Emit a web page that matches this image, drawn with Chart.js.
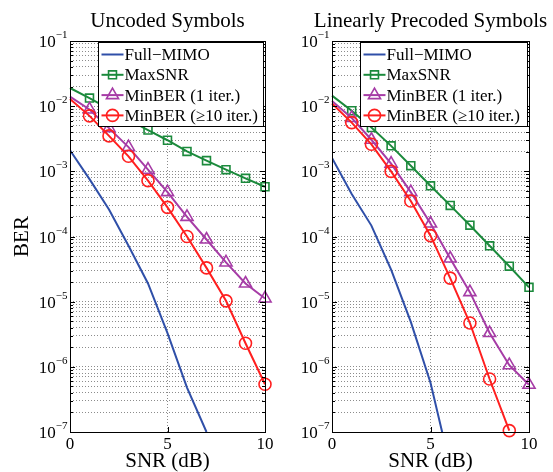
<!DOCTYPE html>
<html>
<head>
<meta charset="utf-8">
<script src="https://cdn.jsdelivr.net/npm/chart.js@4.4.1/dist/chart.umd.min.js"></script>
<style>
  html, body { margin: 0; padding: 0; background: #fff; }
  #wrap { position: relative; width: 553px; height: 472px; }
  .panel { position: absolute; top: 0; height: 472px; }
</style>
</head>
<body>
<div id="wrap">
  <div class="panel" style="left:0;width:276px"><canvas id="uncoded" width="276" height="472"></canvas></div>
  <div class="panel" style="left:276px;width:277px"><canvas id="precoded" width="277" height="472"></canvas></div>
</div>
<script>
const snr = [0, 1, 2, 3, 4, 5, 6, 7, 8, 9, 10];
const seriesNames = ['Full\u2212MIMO', 'MaxSNR', 'MinBER (1 iter.)', 'MinBER (\u226510 iter.)'];
const panelTitles = ['Uncoded Symbols', 'Linearly Precoded Symbols'];

// uncoded symbols
const fullMimoU = [2.1e-3, 7.6e-4, 2.6e-4, 7.2e-5, 1.9e-5, 3.3e-6, 4.8e-7, 1.0e-7];
const maxSnrU   = [1.9e-2, 1.33e-2, 9.1e-3, 6.2e-3, 4.3e-3, 3.0e-3, 2.02e-3, 1.46e-3, 1.06e-3, 7.8e-4, 5.8e-4];
const minBer1U  = [1.4e-2, 8.9e-3, 4.6e-3, 2.35e-3, 1.06e-3, 4.8e-4, 2.0e-4, 9.0e-5, 4.0e-5, 1.9e-5, 1.12e-5];
const minBer10U = [1.29e-2, 7.1e-3, 3.5e-3, 1.7e-3, 7.2e-4, 2.8e-4, 1.0e-4, 3.3e-5, 1.03e-5, 2.3e-6, 5.4e-7];

// linearly precoded symbols
const fullMimoP = [1.6e-3, 4.5e-4, 1.47e-4, 3.1e-5, 4.9e-6, 5.7e-7, 3.0e-8];
const maxSnrP   = [1.45e-2, 8.5e-3, 4.7e-3, 2.46e-3, 1.22e-3, 6.0e-4, 3.0e-4, 1.49e-4, 7.2e-5, 3.5e-5, 1.66e-5];
const minBer1P  = [1.2e-2, 6.6e-3, 3.05e-3, 1.31e-3, 4.8e-4, 1.58e-4, 4.6e-5, 1.4e-5, 3.3e-6, 1.06e-6, 5.3e-7];
const minBer10P = [1.1e-2, 5.6e-3, 2.6e-3, 1.0e-3, 3.5e-4, 1.03e-4, 2.3e-5, 4.7e-6, 6.5e-7, 1.05e-7];

const yExponents = [-7, -6, -5, -4, -3, -2, -1];
const yMinorSteps = [1, 2, 3, 4, 5, 6, 7, 8, 9];
const xTicks = [0, 5, 10];

const serif = "'Liberation Serif', 'Times New Roman', serif";
Chart.defaults.font.family = serif;
Chart.defaults.color = '#000';

const yGrid = [];
yExponents.slice(0, -1).forEach(e => yMinorSteps.forEach(m => yGrid.push(m * Math.pow(10, e))));
yGrid.push(Math.pow(10, yExponents[yExponents.length - 1]));

const pts = vals => vals.map((v, i) => ({x: snr[i], y: v}));

const styles = [
  {color: '#2f4fa8', pointStyle: false, r: 0, clip: 0},
  {color: '#1b8a3c', pointStyle: 'rect', r: 5.6, clip: 10},
  {color: '#a63ca6', pointStyle: 'triangle', r: 7, clip: 10},
  {color: '#ff1f1f', pointStyle: 'circle', r: 6, clip: 10},
];

function makeDatasets(series) {
  return series.map((vals, i) => ({
    label: seriesNames[i],
    data: pts(vals),
    borderColor: styles[i].color,
    backgroundColor: 'rgba(0,0,0,0)',
    borderWidth: 2,
    pointStyle: styles[i].pointStyle,
    markerRadius: styles[i].r,
    pointRadius: ctx => ctx.dataIndex === 0 ? 0 : ctx.dataset.markerRadius,
    pointBorderColor: styles[i].color,
    pointBackgroundColor: 'rgba(0,0,0,0)',
    pointBorderWidth: 1.6,
    tension: 0,
    clip: styles[i].clip,
    order: 4 - i,
  }));
}

const matlabFrame = {
  id: 'matlabFrame',
  afterDatasetsDraw(chart, args, opts) {
    const {ctx, chartArea: a} = chart;
    const x = chart.scales.x, y = chart.scales.y;
    ctx.save();

    // inward tick marks
    ctx.strokeStyle = '#000';
    ctx.lineWidth = 1;
    ctx.beginPath();
    y.ticks.forEach(t => {
      const py = Math.round(y.getPixelForValue(t.value)) + 0.5;
      const decade = Math.abs(Math.log10(t.value) - Math.round(Math.log10(t.value))) < 1e-6;
      const len = decade ? 5 : 3;
      ctx.moveTo(a.left, py); ctx.lineTo(a.left + len, py);
      ctx.moveTo(a.right, py); ctx.lineTo(a.right - len, py);
    });
    x.ticks.forEach(t => {
      const px = Math.round(x.getPixelForValue(t.value)) + 0.5;
      ctx.moveTo(px, a.bottom); ctx.lineTo(px, a.bottom - 5);
      ctx.moveTo(px, a.top); ctx.lineTo(px, a.top + 5);
    });
    ctx.stroke();

    // legend
    const bx = Math.round(a.left + 28) + 0.5, by = Math.round(a.top + 1) + 0.5;
    const bw = Math.round(a.right - 2 - bx), bh = 84;
    ctx.fillStyle = '#fff';
    ctx.fillRect(bx, by, bw, bh);
    ctx.strokeStyle = '#000';
    ctx.strokeRect(bx, by, bw, bh);
    ctx.font = '17px ' + serif;
    ctx.textBaseline = 'middle';
    ctx.textAlign = 'left';
    chart.data.datasets.forEach((ds, i) => {
      const ry = by + 12 + i * 20.3;
      ctx.strokeStyle = ds.borderColor;
      ctx.lineWidth = ds.borderWidth;
      ctx.beginPath(); ctx.moveTo(bx + 3, ry); ctx.lineTo(bx + 25, ry); ctx.stroke();
      if (ds.pointStyle) {
        ctx.lineWidth = ds.pointBorderWidth;
        ctx.fillStyle = 'rgba(0,0,0,0)';
        Chart.helpers.drawPoint(ctx, {pointStyle: ds.pointStyle, radius: ds.markerRadius,
          borderWidth: ds.pointBorderWidth, rotation: 0}, bx + 14, ry);
      }
      ctx.fillStyle = '#000';
      ctx.fillText(ds.label, bx + 26, ry + 1);
    });

    // axes box
    ctx.strokeStyle = '#000';
    ctx.lineWidth = 1;
    ctx.strokeRect(Math.round(a.left) + 0.5, Math.round(a.top) + 0.5,
      Math.round(a.right - a.left), Math.round(a.bottom - a.top));

    // y tick labels 10^e
    ctx.fillStyle = '#000';
    ctx.textBaseline = 'alphabetic';
    yExponents.forEach(e => {
      const py = y.getPixelForValue(Math.pow(10, e));
      const sup = '\u2212' + Math.abs(e);
      ctx.font = '11px ' + serif;
      const sx = a.left - 2.5 - ctx.measureText(sup).width;
      ctx.textAlign = 'left';
      ctx.fillText(sup, sx, py - 3);
      ctx.font = '17px ' + serif;
      ctx.textAlign = 'right';
      ctx.fillText('10', sx, py + 6);
    });

    // panel title
    ctx.font = '21px ' + serif;
    ctx.textAlign = 'center';
    ctx.fillText(opts.title, (a.left + a.right) / 2, 27);
    ctx.restore();
  }
};

function makeChart(id, title, series, yWidth, padRight, yTitle) {
  return new Chart(document.getElementById(id), {
    type: 'line',
    data: {datasets: makeDatasets(series)},
    options: {
      responsive: false,
      devicePixelRatio: 1,
      animation: false,
      events: [],
      layout: {padding: {left: 0, right: padRight, top: 41, bottom: 0}},
      plugins: {
        legend: {display: false},
        tooltip: {enabled: false},
        matlabFrame: {title: title},
      },
      scales: {
        x: {
          type: 'linear',
          min: 0,
          max: 10,
          afterBuildTicks: s => { s.ticks = xTicks.map(v => ({value: v})); },
          afterFit: s => { s.height = 40; },
          grid: {color: 'rgba(0,0,0,0.45)', drawTicks: false},
          border: {display: false, dash: [1, 2]},
          ticks: {padding: 2, font: {size: 17}, color: '#000'},
          title: {display: true, text: 'SNR (dB)', font: {size: 21, lineHeight: 1}, padding: {top: 0, bottom: 0}},
        },
        y: {
          type: 'logarithmic',
          min: 1e-7,
          max: 1e-1,
          afterBuildTicks: s => { s.ticks = yGrid.map(v => ({value: v})); },
          afterFit: s => { s.width = yWidth; },
          grid: {color: 'rgba(0,0,0,0.45)', drawTicks: false},
          border: {display: false, dash: [1, 2]},
          ticks: {display: false},
          title: {display: yTitle, text: 'BER', font: {size: 21, lineHeight: 1}, padding: {top: 12, bottom: 0}},
        },
      },
    },
    plugins: [matlabFrame],
  });
}

makeChart('uncoded', panelTitles[0], [fullMimoU, maxSnrU, minBer1U, minBer10U], 70, 11, true);
makeChart('precoded', panelTitles[1], [fullMimoP, maxSnrP, minBer1P, minBer10P], 56, 24, false);
</script>
</body>
</html>
